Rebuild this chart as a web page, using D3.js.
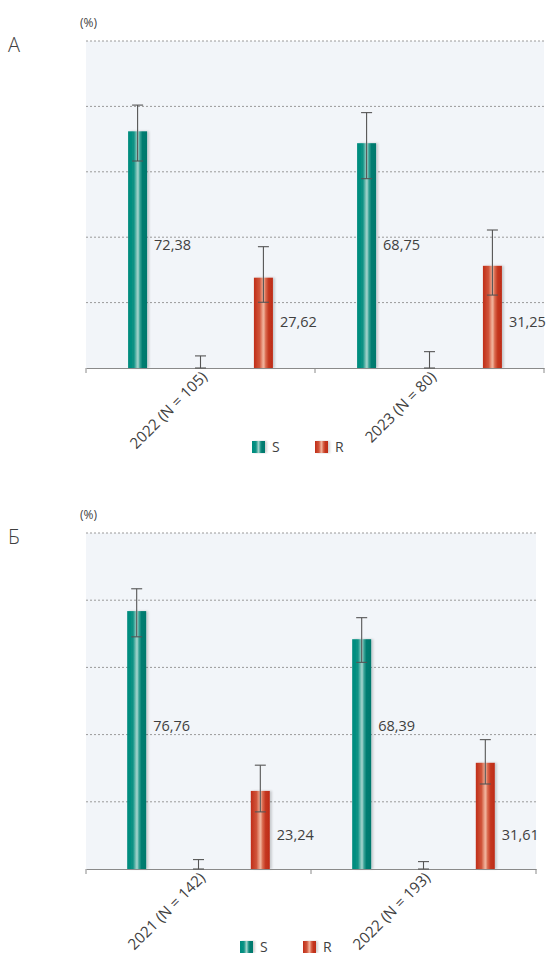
<!DOCTYPE html>
<html>
<head>
<meta charset="utf-8">
<script src="https://cdn.jsdelivr.net/npm/d3@7"></script>
<style>
  html, body { margin: 0; padding: 0; background: #fff; }
  svg { display: block; }
  text { font-family: "Open Sans", "Noto Sans", sans-serif; fill: #3f3f3f; }
</style>
</head>
<body>
<svg id="chart" width="548" height="953"></svg>
<script>
// Series shown as bars; "I" is the empty middle series drawn only as an error bar
const seriesKeys = ["S", "I", "R"];
const legendKeys = ["S", "R"];
const yTicks = [0, 20, 40, 60, 80, 100];

// Panel А
const categoriesA = ["2022 (N = 105)", "2023 (N = 80)"];
const valuesA_S = [72.38, 68.75];
const valuesA_I = [0, 0];
const valuesA_R = [27.62, 31.25];
const ciA_S = [[63.3, 80.4], [57.9, 78.1]];
const ciA_I = [[0, 3.7], [0, 5.0]];
const ciA_R = [[20.1, 37.1], [22.3, 42.2]];

// Panel Б
const categoriesB = ["2021 (N = 142)", "2022 (N = 193)"];
const valuesB_S = [76.76, 68.39];
const valuesB_I = [0, 0];
const valuesB_R = [23.24, 31.61];
const ciB_S = [[69.1, 83.4], [61.5, 74.8]];
const ciB_I = [[0, 2.8], [0, 2.2]];
const ciB_R = [[17.0, 30.9], [25.3, 38.5]];

const svg = d3.select("#chart");
const defs = svg.append("defs");

function addGradient(id, stops) {
  const g = defs.append("linearGradient").attr("id", id)
    .attr("x1", "0%").attr("x2", "100%").attr("y1", "0%").attr("y2", "0%");
  stops.forEach(([o, c]) => g.append("stop").attr("offset", o).attr("stop-color", c));
}
addGradient("gradS", [["0%", "#008b7d"], ["30%", "#0a9284"], ["45%", "#7fc2b8"], ["52%", "#a9d6cf"], ["62%", "#3aa497"], ["75%", "#007d71"], ["100%", "#00786c"]]);
addGradient("gradR", [["0%", "#c02d18"], ["30%", "#d0553b"], ["45%", "#eba088"], ["52%", "#f0b39c"], ["62%", "#da6b50"], ["78%", "#c4361f"], ["100%", "#bd2c17"]]);

const shadow = defs.append("filter").attr("id", "barShadow")
  .attr("x", "-30%").attr("y", "-5%").attr("width", "180%").attr("height", "110%");
shadow.append("feDropShadow").attr("dx", 2).attr("dy", 0).attr("stdDeviation", 1)
  .attr("flood-color", "#000").attr("flood-opacity", 0.18);

const fills = { S: "url(#gradS)", R: "url(#gradR)" };

function drawPanel(cfg) {
  const g = svg.append("g");
  const y = d3.scaleLinear().domain([0, 100]).range([cfg.bottom, cfg.top]);
  const x = d3.scaleBand().domain(cfg.categories).range([cfg.left, cfg.right]);
  const inner = d3.scalePoint().domain(seriesKeys).range([0, x.bandwidth()]).padding(0.82);
  const barW = 19;

  // plot background
  g.append("rect")
    .attr("x", cfg.left).attr("y", cfg.top)
    .attr("width", cfg.right - cfg.left).attr("height", cfg.bottom - cfg.top)
    .attr("fill", "#f2f5f9");

  // dotted gridlines
  g.selectAll("line.grid").data(yTicks.slice(1)).join("line")
    .attr("class", "grid")
    .attr("x1", cfg.left).attr("x2", cfg.right)
    .attr("y1", d => y(d)).attr("y2", d => y(d))
    .attr("stroke", "#9a9a9a").attr("stroke-width", 1)
    .attr("stroke-dasharray", "2,2");

  // panel letter and unit
  g.append("text").attr("x", 8).attr("y", cfg.top + 11)
    .attr("font-size", 20).attr("font-weight", 300).text(cfg.letter);
  g.append("text").attr("x", 80).attr("y", cfg.top - 14)
    .attr("font-size", 12).text("(%)");

  const rows = cfg.categories.map((c, i) => ({
    cat: c,
    S: { v: cfg.S[i], ci: cfg.ciS[i] },
    I: { v: cfg.I[i], ci: cfg.ciI[i] },
    R: { v: cfg.R[i], ci: cfg.ciR[i] }
  }));

  rows.forEach(row => {
    seriesKeys.forEach(k => {
      const cx = x(row.cat) + inner(k);
      const d = row[k];
      if (k !== "I") {
        g.append("rect")
          .attr("x", cx - barW / 2).attr("y", y(d.v))
          .attr("width", barW).attr("height", y(0) - y(d.v))
          .attr("fill", fills[k]).attr("filter", "url(#barShadow)");
        g.append("text")
          .attr("x", cx + barW / 2 + 7)
          .attr("y", y(cfg.labelAt[k]))
          .attr("dy", "0.35em")
          .attr("font-size", 14.5)
          .text(d3.format(".2f")(d.v).replace(".", ","));
      }
    });
  });

  // axis baseline with ticks
  const axis = g.append("g").attr("transform", `translate(0,${cfg.bottom})`)
    .call(d3.axisBottom(x).tickSizeOuter(0).tickSize(0).tickFormat(""));
  axis.select(".domain").attr("stroke", "#8a8a8a");
  const bounds = [cfg.left, (cfg.left + cfg.right) / 2, cfg.right];
  g.selectAll("line.tk").data(bounds).join("line")
    .attr("x1", d => d).attr("x2", d => d)
    .attr("y1", cfg.bottom).attr("y2", cfg.bottom + 5)
    .attr("stroke", "#8a8a8a");

  // error bars
  rows.forEach(row => {
    seriesKeys.forEach(k => {
      const cx = x(row.cat) + inner(k);
      const [lo, hi] = row[k].ci;
      const eg = g.append("g").attr("stroke", "#555").attr("stroke-width", 1.1);
      eg.append("line").attr("x1", cx).attr("x2", cx).attr("y1", y(lo)).attr("y2", y(hi));
      eg.append("line").attr("x1", cx - 5.5).attr("x2", cx + 5.5).attr("y1", y(hi)).attr("y2", y(hi));
      eg.append("line").attr("x1", cx - 5.5).attr("x2", cx + 5.5).attr("y1", y(lo)).attr("y2", y(lo));
    });
  });

  // rotated category labels
  cfg.categories.forEach(c => {
    const cx = x(c) + x.bandwidth() / 2 + 4;
    g.append("text")
      .attr("transform", `translate(${cx},${cfg.bottom + 6}) rotate(-45)`)
      .attr("text-anchor", "end")
      .attr("dy", "0.35em")
      .attr("font-size", 15.2)
      .text(c);
  });

  // legend
  legendKeys.forEach((k, i) => {
    const lx = cfg.legendX + i * 63;
    g.append("rect").attr("x", lx).attr("y", cfg.legendY)
      .attr("width", 13).attr("height", 12)
      .attr("fill", fills[k]).attr("filter", "url(#barShadow)");
    g.append("text").attr("x", lx + 20).attr("y", cfg.legendY + 6)
      .attr("dy", "0.35em").attr("font-size", 14).text(k);
  });
}

drawPanel({
  letter: "А", categories: categoriesA,
  S: valuesA_S, I: valuesA_I, R: valuesA_R,
  ciS: ciA_S, ciI: ciA_I, ciR: ciA_R,
  left: 86, right: 544, top: 41, bottom: 368,
  labelAt: { S: 37.6, R: 14.1 },
  legendX: 252, legendY: 441
});

drawPanel({
  letter: "Б", categories: categoriesB,
  S: valuesB_S, I: valuesB_I, R: valuesB_R,
  ciS: ciB_S, ciI: ciB_I, ciR: ciB_R,
  left: 86, right: 536, top: 533, bottom: 869,
  labelAt: { S: 42.6, R: 10.1 },
  legendX: 240, legendY: 941
});
</script>
</body>
</html>
